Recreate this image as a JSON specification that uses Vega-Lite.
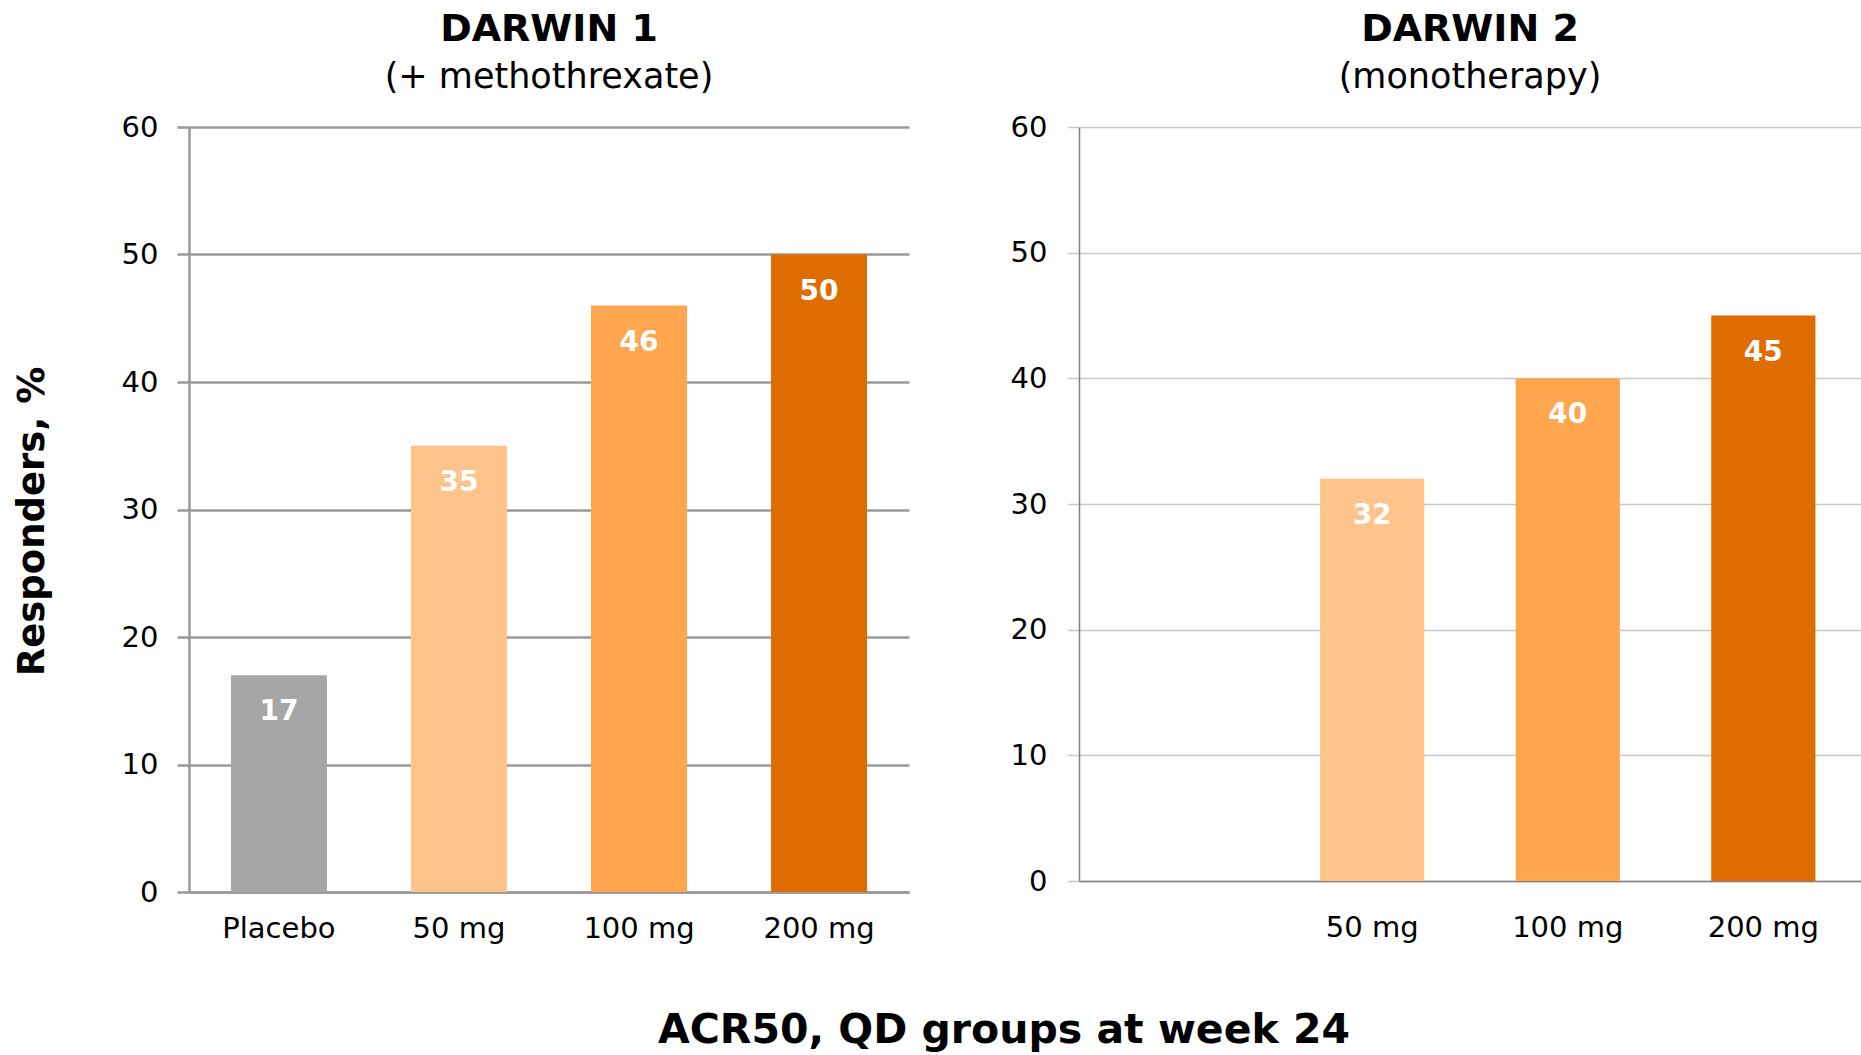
{
  "$schema": "https://vega.github.io/schema/vega-lite/v6.json",
  "background": "white",
  "padding": {"left": 13, "top": 11, "right": 0, "bottom": 4},
  "config": {
    "view": {"stroke": null},
    "font": "DejaVu Sans",
    "axis": {"labelFont": "DejaVu Sans", "labelColor": "black", "titleFont": "DejaVu Sans", "titleColor": "black"}
  },
  "title": {
    "text": "ACR50, QD groups at week 24",
    "orient": "bottom",
    "anchor": "middle",
    "fontSize": 41,
    "fontWeight": "bold",
    "font": "DejaVu Sans",
    "color": "black",
    "offset": 68,
    "dx": 67
  },
  "spacing": 101,
  "hconcat": [
    {
      "width": 720,
      "height": 765,
      "title": {
        "text": "DARWIN 1",
        "subtitle": "(+ methothrexate)",
        "fontSize": 38,
        "fontWeight": "bold",
        "subtitleFontSize": 35,
        "subtitleFont": "DejaVu Sans",
        "font": "DejaVu Sans",
        "color": "black",
        "subtitleColor": "black",
        "anchor": "middle",
        "offset": 18,
        "subtitlePadding": 11
      },
      "data": {"values": [
        {"dose": "Placebo", "value": 17},
        {"dose": "50 mg", "value": 35},
        {"dose": "100 mg", "value": 46},
        {"dose": "200 mg", "value": 50}
      ]},
      "encoding": {
        "x": {
          "field": "dose", "type": "nominal",
          "sort": ["Placebo", "50 mg", "100 mg", "200 mg"],
          "scale": {"domain": ["Placebo", "50 mg", "100 mg", "200 mg"], "paddingInner": 0.467, "paddingOuter": 0.233},
          "axis": {"title": null, "labelAngle": 0, "labelFontSize": 29, "ticks": false, "labelPadding": 22, "domainColor": "#999999", "domainWidth": 2.5}
        },
        "y": {
          "field": "value", "type": "quantitative",
          "scale": {"domain": [0, 60], "nice": false},
          "axis": {
            "title": "Responders, %", "titleFontSize": 37, "titleFontWeight": "bold", "titlePadding": 70, "titleY": 394,
            "values": [0, 10, 20, 30, 40, 50, 60],
            "labelFontSize": 29, "labelPadding": 19,
            "tickSize": 12, "tickColor": "#999999", "tickWidth": 2.5,
            "grid": true, "gridColor": "#999999", "gridWidth": 2.5,
            "domainColor": "#999999", "domainWidth": 2.5
          }
        }
      },
      "layer": [
        {
          "mark": {"type": "bar"},
          "encoding": {
            "color": {"field": "dose", "type": "nominal",
              "scale": {"domain": ["Placebo", "50 mg", "100 mg", "200 mg"], "range": ["#A6A6A6", "#FFC48B", "#FFA64F", "#DF6C00"]},
              "legend": null}
          }
        },
        {
          "mark": {"type": "text", "dy": 37, "color": "white", "fontWeight": "bold", "fontSize": 28, "font": "DejaVu Sans"},
          "encoding": {"text": {"field": "value", "type": "quantitative"}}
        }
      ]
    },
    {
      "width": 782,
      "height": 754,
      "title": {
        "text": "DARWIN 2",
        "subtitle": "(monotherapy)",
        "fontSize": 38,
        "fontWeight": "bold",
        "subtitleFontSize": 35,
        "subtitleFont": "DejaVu Sans",
        "font": "DejaVu Sans",
        "color": "black",
        "subtitleColor": "black",
        "anchor": "middle",
        "offset": 18,
        "subtitlePadding": 11
      },
      "data": {"values": [
        {"dose": "50 mg", "value": 32},
        {"dose": "100 mg", "value": 40},
        {"dose": "200 mg", "value": 45}
      ]},
      "encoding": {
        "x": {
          "field": "dose", "type": "nominal",
          "sort": ["Placebo", "50 mg", "100 mg", "200 mg"],
          "scale": {"domain": ["Placebo", "50 mg", "100 mg", "200 mg"], "paddingInner": 0.467, "paddingOuter": 0.233},
          "axis": {"title": null, "labelAngle": 0, "labelFontSize": 29, "ticks": false, "labelPadding": 32,
            "labelExpr": "datum.label == 'Placebo' ? '' : datum.label",
            "domainColor": "#808080", "domainWidth": 1.5}
        },
        "y": {
          "field": "value", "type": "quantitative",
          "scale": {"domain": [0, 60], "nice": false},
          "axis": {
            "title": null,
            "values": [0, 10, 20, 30, 40, 50, 60],
            "labelFontSize": 29, "labelPadding": 20,
            "tickSize": 12, "tickColor": "#C8C8C8", "tickWidth": 1.5,
            "grid": true, "gridColor": "#C8C8C8", "gridWidth": 1.5,
            "domainColor": "#808080", "domainWidth": 1.5
          }
        }
      },
      "layer": [
        {
          "mark": {"type": "bar"},
          "encoding": {
            "color": {"field": "dose", "type": "nominal",
              "scale": {"domain": ["50 mg", "100 mg", "200 mg"], "range": ["#FFC48B", "#FFA64F", "#DF6C00"]},
              "legend": null}
          }
        },
        {
          "mark": {"type": "text", "dy": 37, "color": "white", "fontWeight": "bold", "fontSize": 28, "font": "DejaVu Sans"},
          "encoding": {"text": {"field": "value", "type": "quantitative"}}
        }
      ]
    }
  ]
}
